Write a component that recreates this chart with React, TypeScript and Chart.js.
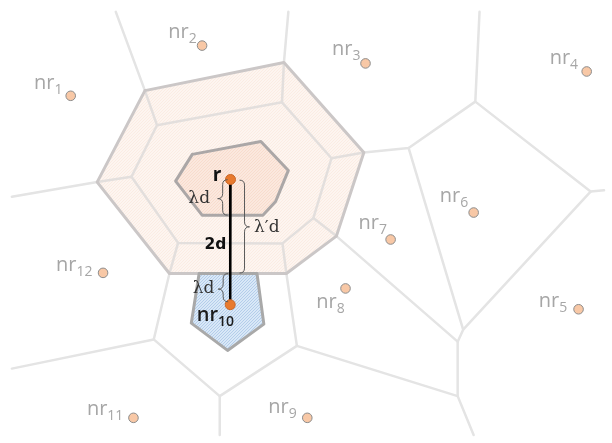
import React, { useEffect, useRef } from "react";
import { Chart, registerables } from "chart.js";
Chart.register(...registerables);

// ---- data (picture coordinates, y grows downward) ----
const outerRing = [[141.7, 87], [283.5, 58], [365, 150.5], [337, 236.5], [286, 275], [166.7, 275], [93, 181]];
const middleRing = [[154, 122.5], [281.5, 99], [332, 156.5], [313.5, 218], [282, 244], [175.5, 243.5], [128, 175.5]];
const innerCell = [[190, 152.5], [260, 139.3], [288, 169], [275, 201], [262, 215], [200, 215], [173, 180]];
const neighbourCell = [[197, 275], [189, 326], [226, 354], [263, 327], [256, 275]];
const voronoiEdges = [
  [[112, 6], [141.7, 87]],
  [[288, 6], [283.5, 58]],
  [[365, 150.5], [410.7, 146], [478.7, 98.3], [483, 6]],
  [[478.7, 98.3], [596.3, 190.7], [610, 189.5]],
  [[596.3, 190.7], [466.3, 332.7], [460.7, 345], [460.7, 401], [477, 441]],
  [[410.7, 146], [466.3, 332.7]],
  [[337, 236.5], [460.7, 345]],
  [[93, 181], [6, 196]],
  [[166.7, 275], [150.7, 342.7], [6, 372.7]],
  [[150.7, 342.7], [218, 401], [218, 441]],
  [[218, 401], [296.7, 349.3], [286, 275]],
  [[296.7, 349.3], [460.7, 401]],
];

const siteNames = ["1", "2", "3", "4", "5", "6", "7", "8", "9", "10", "11", "12"];
const siteX = [66, 200, 366.7, 592.3, 584, 477, 392.3, 346.3, 307.3, 228.7, 130, 99];
const siteY = [92.3, 40.7, 59, 67.3, 311.7, 212.3, 240, 290.3, 423.3, 307, 423.3, 274.3];
const labelX = [28.5, 165.5, 332.5, 554.5, 543.5, 442.5, 359.5, 316.5, 267.5, 194.5, 82.5, 51];
const labelY = [85, 32.7, 50, 60, 309.3, 201.7, 229, 310.3, 418.3, 324, 420.3, 272.7];
const focusIndex = 9; // nr10

const refPoint = { x: 229, y: 178.3, name: "r" };

const annoText = ["r", "2d", "λd", "λ′d", "λd"];
const annoX = [211, 202.5, 186, 253, 190.5];
const annoY = [179.5, 249.5, 202, 232, 295.5];

const braceX = [221, 243.3, 221.5];
const braceTop = [178.5, 179, 275];
const braceBottom = [215, 274.5, 304];
const braceTip = [198, 227, 291];
const braceDir = [-1, 1, -1];

const pts = (arr: number[][], close = false) => {
  const d = arr.map(([x, y]) => ({ x, y }));
  if (close) d.push({ x: arr[0][0], y: arr[0][1] });
  return d;
};

function hatch(base: string, line: string) {
  const c = document.createElement("canvas");
  c.width = 3;
  c.height = 3;
  const x = c.getContext("2d")!;
  x.fillStyle = base;
  x.fillRect(0, 0, 3, 3);
  x.fillStyle = line;
  x.fillRect(0, 2, 1, 1);
  x.fillRect(1, 1, 1, 1);
  x.fillRect(2, 0, 1, 1);
  return x.createPattern(c, "repeat")!;
}

const overlay = {
  id: "overlay",
  afterDatasetsDraw(chart: any) {
    const ctx = chart.ctx as CanvasRenderingContext2D;
    const xs = chart.scales.x, ys = chart.scales.y;
    const px = (v: number) => xs.getPixelForValue(v);
    const py = (v: number) => ys.getPixelForValue(v);
    ctx.save();
    // braces
    ctx.strokeStyle = "#5a5a5a";
    ctx.lineWidth = 1;
    for (let i = 0; i < braceX.length; i++) {
      const x0 = px(braceX[i]);
      const y1 = py(braceTop[i]);
      const y2 = py(braceBottom[i]);
      const ym = py(braceTip[i]);
      const d = braceDir[i];
      const r = 5;
      const w = 5;
      ctx.beginPath();
      ctx.moveTo(x0 - d * r, y1);
      ctx.quadraticCurveTo(x0, y1, x0, y1 + r);
      ctx.lineTo(x0, ym - r);
      ctx.quadraticCurveTo(x0, ym, x0 + d * w, ym);
      ctx.quadraticCurveTo(x0, ym, x0, ym + r);
      ctx.lineTo(x0, y2 - r);
      ctx.quadraticCurveTo(x0, y2, x0 - d * r, y2);
      ctx.stroke();
    }
    // site labels
    ctx.textBaseline = "alphabetic";
    ctx.textAlign = "left";
    for (let i = 0; i < siteNames.length; i++) {
      const focus = i === focusIndex;
      ctx.fillStyle = focus ? "#1c1c1c" : "#a6a6a6";
      ctx.font = (focus ? "600 " : "") + "20px 'Open Sans'";
      const x = px(labelX[i]);
      const y = py(labelY[i]);
      ctx.fillText("nr", x, y);
      const w = ctx.measureText("nr").width;
      ctx.font = (focus ? "600 " : "") + "14px 'Open Sans'";
      ctx.fillText(siteNames[i], x + w, y + 5);
    }
    // annotations
    for (let i = 0; i < annoText.length; i++) {
      if (i === 0) {
        ctx.font = "bold 19px 'Open Sans'";
        ctx.fillStyle = "#111";
      } else if (i === 1) {
        ctx.font = "bold 15.5px 'DejaVu Sans'";
        ctx.fillStyle = "#111";
      } else {
        ctx.font = "17px 'DejaVu Serif'";
        ctx.fillStyle = "#333";
      }
      ctx.fillText(annoText[i], px(annoX[i]), py(annoY[i]));
    }
    ctx.restore();
  },
};

export default function App() {
  const ref = useRef<HTMLCanvasElement>(null);
  useEffect(() => {
    const peach = hatch("#fdf5f0", "#fbece3");
    const peachDark = hatch("#fbe8de", "#f8dccd");
    const blue = hatch("#d9e8f7", "#b4cdea");
    const lineDs = (data: any[], color: string, width: number, order: number, fill: any = false, bg: any = undefined) => ({
      data,
      showLine: true,
      borderColor: color,
      borderWidth: width,
      backgroundColor: bg,
      fill,
      pointRadius: 0,
      pointHoverRadius: 0,
      borderJoinStyle: "round",
      borderCapStyle: "round",
      tension: 0,
      order,
      clip: false,
    });
    const datasets: any[] = [];
    datasets.push({
      data: siteX.map((x, i) => ({ x, y: siteY[i] })).filter((_, i) => i !== focusIndex),
      pointRadius: 4.8,
      pointBackgroundColor: "#f8c8a6",
      pointBorderColor: "#8c8c8c",
      pointBorderWidth: 1,
      showLine: false,
      order: 1,
      clip: false,
    });
    datasets.push({
      data: [{ x: refPoint.x, y: refPoint.y }, { x: siteX[focusIndex], y: siteY[focusIndex] }],
      pointRadius: 5,
      pointBackgroundColor: "#e87a2e",
      pointBorderColor: "#c9682a",
      pointBorderWidth: 1,
      showLine: false,
      order: 0,
      clip: false,
    });
    datasets.push(lineDs([{ x: refPoint.x, y: refPoint.y }, { x: siteX[focusIndex], y: siteY[focusIndex] }], "#000", 2.5, 2));
    datasets.push(lineDs(pts(innerCell, true), "#aba7a7", 3, 5, "shape", peachDark));
    datasets.push(lineDs(pts(neighbourCell, true), "#a9a9a9", 3, 6, "shape", blue));
    datasets.push(lineDs(pts(outerRing, true), "#cbc7c7", 3, 7));
    datasets.push(lineDs(pts(middleRing, true), "#e3dfdd", 2.5, 8));
    outerRing.forEach((p, i) => datasets.push(lineDs(pts([p, middleRing[i]]), "#e3dfdd", 2.5, 8)));
    voronoiEdges.forEach((e) => datasets.push(lineDs(pts(e), "#e4e4e4", 2.5, 9)));
    datasets.push(lineDs(pts(outerRing, true), "rgba(0,0,0,0)", 0, 20, "shape", peach));

    const chart = new Chart(ref.current!, {
      type: "scatter",
      data: { datasets },
      options: {
        animation: false,
        responsive: false,
        events: [],
        layout: { padding: 0 },
        plugins: { legend: { display: false }, tooltip: { enabled: false } },
        scales: {
          x: { type: "linear", min: 0, max: 612, display: false },
          y: { type: "linear", min: 0, max: 443, reverse: true, display: false },
        },
      },
      plugins: [overlay],
    } as any);
    return () => chart.destroy();
  }, []);
  return (
    <div style={{ position: "fixed", left: 0, top: 0, width: 612, height: 443, background: "#fff" }}>
      <canvas ref={ref} width={612} height={443} style={{ display: "block" }} />
    </div>
  );
}
